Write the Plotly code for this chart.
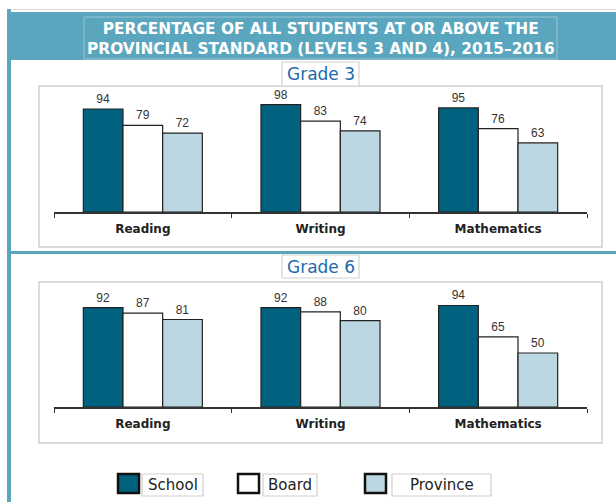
import plotly.graph_objects as go

# ---------------- data ----------------
subjects = ["Reading", "Writing", "Mathematics"]
series_names = ["School", "Board", "Province"]
grade3_school = [94, 98, 95]
grade3_board = [79, 83, 76]
grade3_province = [72, 74, 63]
grade6_school = [92, 92, 94]
grade6_board = [87, 88, 65]
grade6_province = [81, 80, 50]
panel_titles = ["Grade 3", "Grade 6"]
title_text = ("PERCENTAGE OF ALL STUDENTS AT OR ABOVE THE<br>"
              "PROVINCIAL STANDARD (LEVELS 3 AND 4), 2015\u20132016")

# ---------------- style ----------------
W, H = 616, 502
TEAL = "#5AA6BF"
fills = ["#00627F", "#FFFFFF", "#BBD7E2"]
OUTLINE = "#222222"
GRAY = "#CFCFCF"


def xp(px):
    return px / W


def yp(py):
    return 1 - py / H


fig = go.Figure()

grade_data = [
    [grade3_school, grade3_board, grade3_province],
    [grade6_school, grade6_board, grade6_province],
]
for gi, values in enumerate(grade_data):
    xa = "x" if gi == 0 else "x2"
    ya = "y" if gi == 0 else "y2"
    for si, vals in enumerate(values):
        fig.add_trace(go.Bar(
            x=subjects, y=vals, name=series_names[si],
            xaxis=xa, yaxis=ya,
            marker=dict(color=fills[si], line=dict(color=OUTLINE, width=1.2)),
            text=vals, textposition="outside", cliponaxis=False,
            textfont=dict(family="Liberation Sans, Arial", size=12, color="#333333"),
            showlegend=False, hoverinfo="x+y",
        ))

axis_x_common = dict(
    type="category", range=[-0.5, 2.5], showline=True, linecolor="#333333",
    linewidth=1.5, ticks="outside", tickson="boundaries", ticklen=4,
    tickcolor="#333333", showgrid=False, zeroline=False, fixedrange=True,
    tickfont=dict(family="DejaVu Sans", size=12, color="#222222", weight="bold"),
    ticklabelstandoff=5,
)
axis_y_common = dict(range=[0, 100], visible=False, fixedrange=True)

# Grade 3: baseline at 212px, ~1.096 px/unit; Grade 6: baseline 407px, ~1.08 px/unit
fig.update_layout(
    xaxis=dict(domain=[xp(54), xp(587)], anchor="y", **axis_x_common),
    yaxis=dict(domain=[yp(212), yp(212 - 109.6)], anchor="x", **axis_y_common),
    xaxis2=dict(domain=[xp(54), xp(587)], anchor="y2", **axis_x_common),
    yaxis2=dict(domain=[yp(407), yp(407 - 108)], anchor="x2", **axis_y_common),
)

shapes = []


def rect(x0, y0, x1, y1, fill=None, line_color=None, line_width=0, layer="below"):
    d = dict(type="rect", xref="paper", yref="paper",
             x0=xp(x0), x1=xp(x1), y0=yp(y1), y1=yp(y0), layer=layer,
             line=dict(width=line_width, color=line_color or "rgba(0,0,0,0)"))
    if fill:
        d["fillcolor"] = fill
    return d


# faint top line
shapes.append(dict(type="line", xref="paper", yref="paper", x0=xp(13), x1=1,
                   y0=yp(9.5), y1=yp(9.5), line=dict(color="#D6D6D6", width=1)))
# title band and left bar
shapes.append(rect(7, 12, 616, 60, fill=TEAL))
shapes.append(rect(7, 9, 11, 502, fill=TEAL))
# title box
shapes.append(rect(84, 17, 557, 59, line_color="#9CC3D1", line_width=1))
# separator
shapes.append(rect(11, 251, 616, 254, fill=TEAL))
# panel boxes
shapes.append(rect(39, 86, 602, 247, line_color=GRAY, line_width=1.5))
shapes.append(rect(39, 282, 602, 443, line_color=GRAY, line_width=1.5))
# grade label boxes
shapes.append(rect(282, 62, 359, 86, fill="white", line_color="#D2D2D2", line_width=1.2, layer="above"))
shapes.append(rect(282, 255, 359, 278, fill="white", line_color="#D2D2D2", line_width=1.2, layer="above"))

# legend
legend_swatch_x = [118, 238, 365]
legend_box = [(142, 203), (263, 317), (392, 491)]
annotations = []
for i, name in enumerate(series_names):
    sx = legend_swatch_x[i]
    shapes.append(rect(sx, 474, sx + 21, 493, fill=fills[i], line_color="#111111",
                       line_width=2.5, layer="above"))
    bx0, bx1 = legend_box[i]
    shapes.append(rect(bx0, 474, bx1, 496, fill="white", line_color="#D0D0D0",
                       line_width=1.2, layer="above"))
    annotations.append(dict(
        text=name, xref="paper", yref="paper", x=xp((bx0 + bx1) / 2), y=yp(485),
        xanchor="center", yanchor="middle", showarrow=False,
        font=dict(family="DejaVu Sans", size=15, color="#222222")))

annotations.append(dict(
    text=title_text, xref="paper", yref="paper", x=xp(320.5), y=yp(38.5),
    xanchor="center", yanchor="middle", showarrow=False, align="center",
    font=dict(family="DejaVu Sans", size=15.4, color="white", weight="bold")))
for t, cy in zip(panel_titles, [74, 266.5]):
    annotations.append(dict(
        text=t, xref="paper", yref="paper", x=xp(320.5), y=yp(cy),
        xanchor="center", yanchor="middle", showarrow=False,
        font=dict(family="DejaVu Sans", size=17, color="#1B6AAA")))

fig.update_layout(
    width=W, height=H, margin=dict(l=0, r=0, t=0, b=0),
    paper_bgcolor="white", plot_bgcolor="rgba(0,0,0,0)",
    barmode="group", bargap=0.33, bargroupgap=0,
    shapes=shapes, annotations=annotations, showlegend=False,
)

fig.write_html("out.html", config={"displayModeBar": False},
               post_script="document.body.style.margin='0px';")
